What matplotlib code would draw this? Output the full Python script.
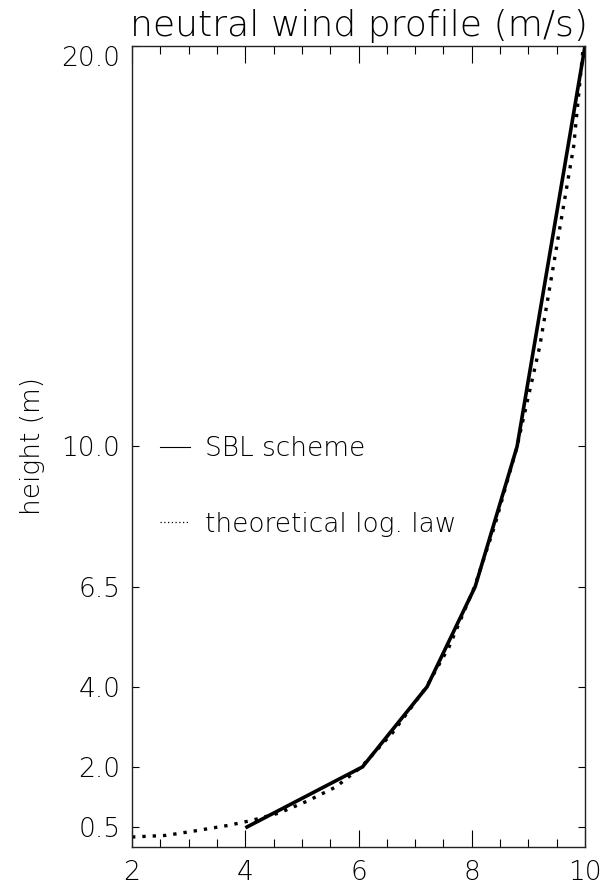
import matplotlib
matplotlib.use("Agg")
import matplotlib.pyplot as plt
from matplotlib.lines import Line2D
from matplotlib.ticker import MultipleLocator

# SBL scheme (solid) - wind speed (m/s) vs height (m)
sbl_speed = [4.03, 6.07, 7.21, 8.06, 8.80, 10.0]
sbl_height = [0.5, 2.0, 4.0, 6.5, 10.0, 20.0]

# theoretical log law (dotted)
log_speed = [2.0, 2.6, 3.1, 3.7, 4.1, 4.6, 5.1, 5.6, 6.05, 6.6, 7.2, 7.6, 8.05,
             8.4, 8.8, 9.2, 9.5, 9.8, 9.97]
log_height = [0.25, 0.29, 0.40, 0.54, 0.66, 0.85, 1.15, 1.5, 2.0, 2.85, 4.0, 5.0,
              6.5, 8.0, 10.0, 12.5, 15.0, 17.5, 20.0]

yticks = [0.5, 2.0, 4.0, 6.5, 10.0, 20.0]
xticks = [2, 4, 6, 8, 10]

plt.rcParams['font.family'] = 'DejaVu Sans'
plt.rcParams['font.weight'] = 'light'
plt.rcParams['axes.titleweight'] = 'light'
plt.rcParams['axes.labelweight'] = 'light'

fig = plt.figure(figsize=(6.05, 8.86), dpi=100)
ax = fig.add_axes([0.2182, 0.0440, 0.7488, 0.9041])

ax.plot(sbl_speed, sbl_height, color='black', lw=2.6, solid_joinstyle='miter')
ax.plot(log_speed, log_height, color='black', lw=2.4, linestyle=(0, (1, 2.1)))

ax.set_xlim(2, 10)
ax.set_ylim(0, 20)
ax.set_xticks(xticks)
ax.set_xticklabels([str(v) for v in xticks])
ax.xaxis.set_minor_locator(MultipleLocator(0.5))
ax.set_yticks(yticks)
ax.set_yticklabels(['%.1f' % v for v in yticks])

ax.tick_params(axis='x', which='major', direction='in', length=12, width=0.8,
               top=True, labelsize=19, pad=9)
ax.tick_params(axis='x', which='minor', direction='in', length=6, width=0.8, top=True)
ax.tick_params(axis='y', which='major', direction='in', length=5, width=0.8,
               right=True, labelsize=19, pad=8.5)
ax.yaxis.get_ticklabels()[-1].set_verticalalignment('top')

for s in ax.spines.values():
    s.set_linewidth(1.0)
    s.set_color('#222222')

ax.set_title('neutral wind profile (m/s)', fontsize=26, pad=7, fontweight='light')
ax.set_ylabel('height (m)', fontsize=19, labelpad=12, fontweight='light')

handles = [Line2D([], [], color='black', lw=0.8),
           Line2D([], [], color='black', lw=0.9, linestyle=(0, (1, 2)))]
ax.legend(handles, ['SBL scheme', 'theoretical log. law'], loc='center left',
          bbox_to_anchor=(0.062, 0.45), frameon=False, fontsize=19,
          handlelength=1.15, handletextpad=0.57, labelspacing=1.9,
          borderpad=0, borderaxespad=0)

fig.savefig('out.png', dpi=100)
